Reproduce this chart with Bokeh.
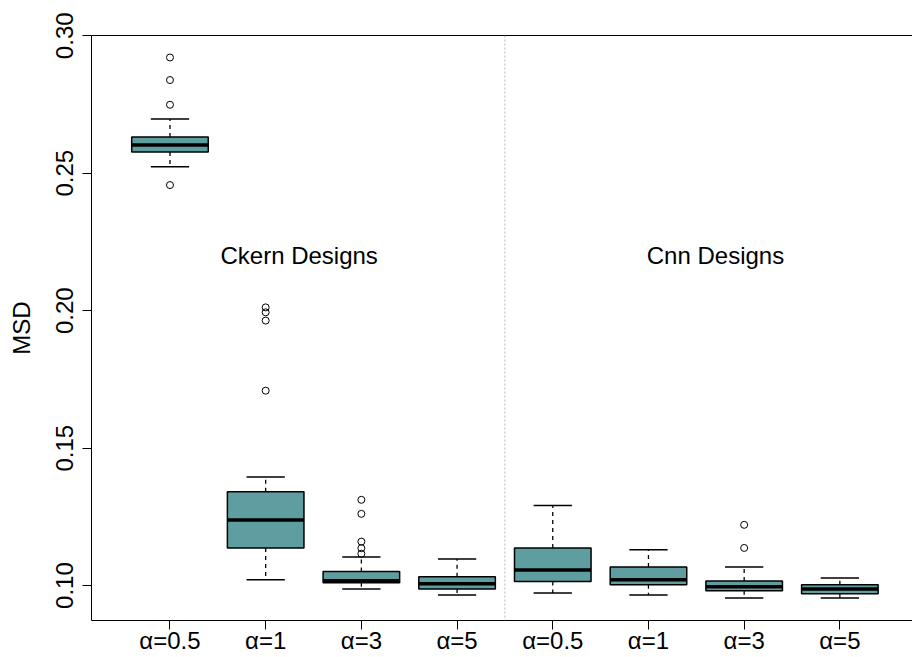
import math
import numpy as np
from bokeh.plotting import figure
from bokeh.models import Range1d, FixedTicker, LinearAxis, Span, PrintfTickFormatter
from bokeh.core.properties import value
from bokeh.embed import file_html
from bokeh.resources import INLINE

# ---- data ----
x_labels = ["α=0.5", "α=1", "α=3", "α=5", "α=0.5", "α=1", "α=3", "α=5"]
lower_whisker = [0.2524, 0.1021, 0.0988, 0.0966, 0.0973, 0.0966, 0.0955, 0.0955]
q1 = [0.2577, 0.1137, 0.1010, 0.0988, 0.1015, 0.1003, 0.0981, 0.0970]
median = [0.2603, 0.1239, 0.1018, 0.1007, 0.1057, 0.1021, 0.0996, 0.0988]
q3 = [0.2632, 0.1341, 0.1051, 0.1032, 0.1137, 0.1068, 0.1017, 0.1003]
upper_whisker = [0.2697, 0.1395, 0.1104, 0.1097, 0.1291, 0.1130, 0.1068, 0.1028]
outliers = {
    1: [0.2921, 0.2839, 0.2749, 0.2457],
    2: [0.2012, 0.1994, 0.1964, 0.1709],
    3: [0.1312, 0.1261, 0.1160, 0.1136, 0.1116],
    7: [0.1221, 0.1137],
}
y_ticks = [0.10, 0.15, 0.20, 0.25, 0.30]
group_titles = ["Ckern Designs", "Cnn Designs"]
group_title_x = [2.35, 6.70]
group_title_y = [0.22, 0.22]

FONT = "Liberation Sans"
FILL = "#5F9EA0"

pos = np.arange(1, len(x_labels) + 1, dtype=float)
half = 0.4

p = figure(width=912, height=657, output_backend="svg", toolbar_location=None,
           x_range=Range1d(0.18, 8.759), y_range=Range1d(0.0873, 0.3001),
           min_border_left=91, min_border_right=0, min_border_top=35, min_border_bottom=37)
p.grid.visible = False
p.outline_line_color = None
p.background_fill_color = "white"
p.border_fill_color = "white"

# x axis
p.xaxis.ticker = FixedTicker(ticks=list(pos))
p.xaxis.major_label_overrides = {float(k): lab for k, lab in zip(pos, x_labels)}
p.xaxis.major_label_text_font = FONT
p.xaxis.major_label_text_font_size = "24px"
p.xaxis.major_label_text_color = "black"
p.xaxis.major_tick_out = 9
p.xaxis.major_tick_in = 0
p.xaxis.minor_tick_line_color = None
p.xaxis.axis_line_color = "black"
p.xaxis.major_tick_line_color = "black"
p.xaxis.major_label_standoff = -3

# y axis
p.yaxis.ticker = FixedTicker(ticks=y_ticks)
p.yaxis.formatter = PrintfTickFormatter(format="%.2f")
p.yaxis.major_label_orientation = "vertical"
p.yaxis.major_label_text_font = FONT
p.yaxis.major_label_text_font_size = "24px"
p.yaxis.major_label_text_color = "black"
p.yaxis.major_tick_out = 9
p.yaxis.major_tick_in = 0
p.yaxis.minor_tick_line_color = None
p.yaxis.axis_line_color = "black"
p.yaxis.major_tick_line_color = "black"
p.yaxis.major_label_standoff = 9
p.yaxis.axis_label = "MSD"
p.yaxis.axis_label_text_font = FONT
p.yaxis.axis_label_text_font_size = "24px"
p.yaxis.axis_label_text_font_style = "normal"
p.yaxis.axis_label_text_color = "black"
p.yaxis.axis_label_standoff = 19

# top border
top = LinearAxis(ticker=FixedTicker(ticks=[]), major_label_text_font_size="0px",
                 major_tick_line_color=None, minor_tick_line_color=None,
                 axis_line_color="black")
p.add_layout(top, "above")

# separator between groups
sep = Span(location=len(x_labels) / 2 + 0.5, dimension="height",
           line_color="#b4b4b4", line_dash="2 2", line_width=1)
p.add_layout(sep)

# whiskers
p.segment(x0=pos, y0=q3, x1=pos, y1=upper_whisker, line_color="black",
          line_width=1.3, line_dash="4 4")
p.segment(x0=pos, y0=q1, x1=pos, y1=lower_whisker, line_color="black",
          line_width=1.3, line_dash="4 4")
p.segment(x0=pos - half / 2, y0=upper_whisker, x1=pos + half / 2, y1=upper_whisker,
          line_color="black", line_width=1.5)
p.segment(x0=pos - half / 2, y0=lower_whisker, x1=pos + half / 2, y1=lower_whisker,
          line_color="black", line_width=1.5)

# boxes
p.quad(left=pos - half, right=pos + half, bottom=q1, top=q3,
       fill_color=FILL, line_color="black", line_width=1.5)
p.segment(x0=pos - half, y0=median, x1=pos + half, y1=median,
          line_color="black", line_width=3.5)

# outliers
ox, oy = [], []
for k, vals in outliers.items():
    for v in vals:
        ox.append(float(k))
        oy.append(v)
p.scatter(x=ox, y=oy, marker="circle", size=7, fill_color=None,
          line_color="black", line_width=1)

# group titles
p.text(x=group_title_x, y=group_title_y, text=group_titles,
       text_font=value(FONT), text_font_size="24px", text_color="black",
       text_align="center", text_baseline="middle")

open("out.html", "w").write(file_html(p, INLINE))
